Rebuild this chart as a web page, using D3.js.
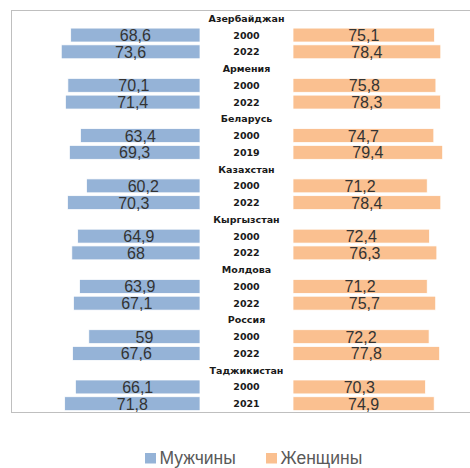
<!DOCTYPE html>
<html>
<head>
<meta charset="utf-8">
<script src="https://cdn.jsdelivr.net/npm/d3@7"></script>
<style>
  body { margin: 0; background: #fff; }
  svg { display: block; }
</style>
</head>
<body>
<svg width="470" height="468"></svg>
<script>
var countries = ["Азербайджан", "Армения", "Беларусь", "Казахстан", "Кыргызстан", "Молдова", "Россия", "Таджикистан"];
var years = [["2000", "2022"], ["2000", "2022"], ["2000", "2019"], ["2000", "2022"],
             ["2000", "2022"], ["2000", "2022"], ["2000", "2022"], ["2000", "2021"]];
var men = [[68.6, 73.6], [70.1, 71.4], [63.4, 69.3], [60.2, 70.3],
           [64.9, 68], [63.9, 67.1], [59, 67.6], [66.1, 71.8]];
var women = [[75.1, 78.4], [75.8, 78.3], [74.7, 79.4], [71.2, 78.4],
             [72.4, 76.3], [71.2, 75.7], [72.2, 77.8], [70.3, 74.9]];
var seriesNames = ["Мужчины", "Женщины"];
var seriesColors = ["#95b3d7", "#fac090"];

var svg = d3.select("svg");
var width = 470, height = 468;

// one row for the country name, then one row per year
var rows = [];
countries.forEach(function(c, i) {
  rows.push({ type: "country", label: c });
  years[i].forEach(function(y, j) {
    rows.push({ type: "year", label: y, m: men[i][j], w: women[i][j] });
  });
});

var plotTop = 10, plotBottom = 412, plotLeft = 11;
var y = d3.scaleBand()
  .domain(d3.range(rows.length))
  .range([plotTop, plotBottom])
  .paddingInner(0.17)
  .paddingOuter(0.08);

var xLeft = d3.scaleLinear().domain([0, 100]).range([200, 200 - 188.5]);
var xRight = d3.scaleLinear().domain([0, 100]).range([293, 293 + 188.5]);
var centerX = 246.5;

// plot area border
svg.append("rect")
  .attr("x", plotLeft + 0.5)
  .attr("y", plotTop + 0.5)
  .attr("width", width)
  .attr("height", plotBottom - plotTop)
  .attr("fill", "none")
  .attr("stroke", "#bfbfbf")
  .attr("stroke-width", 1);

var fmt = function(v) { return String(v).replace(".", ","); };

var barRows = rows.map(function(r, i) { r.i = i; return r; })
  .filter(function(r) { return r.type === "year"; });

// men bars
svg.selectAll(".bar-m")
  .data(barRows)
  .enter()
  .append("rect")
  .attr("class", "bar-m")
  .attr("x", function(d) { return xLeft(d.m); })
  .attr("y", function(d) { return y(d.i); })
  .attr("width", function(d) { return xLeft(0) - xLeft(d.m); })
  .attr("height", y.bandwidth())
  .attr("fill", seriesColors[0])
  .attr("stroke", "#fff")
  .attr("stroke-width", 0.75);

// women bars
svg.selectAll(".bar-w")
  .data(barRows)
  .enter()
  .append("rect")
  .attr("class", "bar-w")
  .attr("x", xRight(0))
  .attr("y", function(d) { return y(d.i); })
  .attr("width", function(d) { return xRight(d.w) - xRight(0); })
  .attr("height", y.bandwidth())
  .attr("fill", seriesColors[1])
  .attr("stroke", "#fff")
  .attr("stroke-width", 0.75);

// value labels
svg.selectAll(".val-m")
  .data(barRows)
  .enter()
  .append("text")
  .attr("x", function(d) { return (xLeft(d.m) + xLeft(0)) / 2; })
  .attr("y", function(d) { return y(d.i) + y.bandwidth() / 2 + 6; })
  .attr("text-anchor", "middle")
  .attr("font-family", "Liberation Sans, Arial, sans-serif")
  .attr("font-size", 16)
  .attr("fill", "#333")
  .text(function(d) { return fmt(d.m); });

svg.selectAll(".val-w")
  .data(barRows)
  .enter()
  .append("text")
  .attr("x", function(d) { return (xRight(d.w) + xRight(0)) / 2; })
  .attr("y", function(d) { return y(d.i) + y.bandwidth() / 2 + 6; })
  .attr("text-anchor", "middle")
  .attr("font-family", "Liberation Sans, Arial, sans-serif")
  .attr("font-size", 16)
  .attr("fill", "#333")
  .text(function(d) { return fmt(d.w); });

// center labels: countries and years
svg.selectAll(".row-label")
  .data(rows)
  .enter()
  .append("text")
  .attr("x", centerX)
  .attr("y", function(d, i) { return y(i) + y.bandwidth() / 2 + 3.5; })
  .attr("text-anchor", "middle")
  .attr("font-family", "DejaVu Sans, sans-serif")
  .attr("font-weight", "bold")
  .attr("font-size", 9.5)
  .attr("fill", "#1a1a1a")
  .text(function(d) { return d.label; });

// legend
var legend = svg.append("g").attr("transform", "translate(0,463.5)");
var legendX = [145, 266];
seriesNames.forEach(function(name, i) {
  legend.append("rect")
    .attr("x", legendX[i])
    .attr("y", -10.5)
    .attr("width", 11)
    .attr("height", 10.5)
    .attr("fill", seriesColors[i]);
  legend.append("text")
    .attr("x", legendX[i] + 14.5)
    .attr("y", 0)
    .attr("font-family", "Liberation Sans, Arial, sans-serif")
    .attr("font-size", 17.5)
    .attr("fill", "#595959")
    .text(name);
});
</script>
</body>
</html>
